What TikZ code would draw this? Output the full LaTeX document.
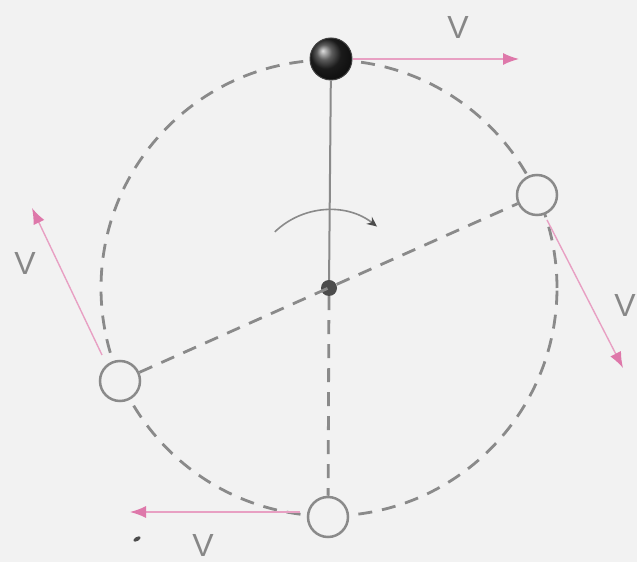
\documentclass[tikz,border=0pt]{standalone}
\usepackage{fontspec}
\setmainfont{Liberation Sans}
\usetikzlibrary{arrows.meta}
\definecolor{bg}{RGB}{242,242,242}
\definecolor{ln}{RGB}{138,138,138}
\definecolor{pk}{RGB}{222,120,170}
\definecolor{txt}{RGB}{135,135,135}
\tikzset{
  ball/.style={circle,draw=ln,line width=2.5pt,fill=bg,minimum size=40pt,inner sep=0pt},
  heavy/.style={circle,draw=black!75,line width=1pt,ball color=black!85,minimum size=42pt,inner sep=0pt},
  dsh/.style={draw=ln,line width=2.8pt,dash pattern=on 14pt off 10pt},
  vel/.style={draw=pk!70,line width=1.4pt,-{Latex[length=16pt,width=12pt,color=pk]}},
  vlab/.style={text=txt,font=\fontsize{32}{32}\selectfont,inner sep=0pt},
}
\begin{document}
\begin{tikzpicture}[x=1pt,y=1pt]
\fill[bg] (0,0) rectangle (637,562);
\useasboundingbox (0,0) rectangle (637,562);
% orbit
\coordinate (P) at (329,274);
\draw[dsh] (P) circle (228);
% balls
\node[ball] (R) at (537,367) {};
\node[ball] (L) at (120,181) {};
\node[ball] (B) at (328,45) {};
\node[heavy] (T) at (331,503) {};
\node[circle,fill=black!70,minimum size=16pt,inner sep=0pt] (C) at (P) {};
% radii
\draw[ln,line width=2pt] (T) -- (C);
\draw[dsh] (C) -- (B);
\draw[dsh] (L) -- (R);
% rotation arrow
\draw[ln,line width=1.6pt,-{Stealth[length=10pt,width=9pt,color=black!70]}] ([shift={(134:78)}]P) arc[start angle=134,end angle=52,radius=78];
% velocities
\coordinate (vt) at (519,503);
\coordinate (vr) at (623,194);
\coordinate (vl) at (32,354);
\coordinate (vb) at (130,50);
\draw[vel] (T.east) -- (vt);
\draw[vel] (547,342) -- (vr);
\draw[vel] (102,207) -- (vl);
\draw[vel] (300,50) -- (vb);
\node[vlab] (Vt) at (458,535) {V};
\node[vlab] (Vr) at (625,257) {V};
\node[vlab] (Vl) at (25,299) {V};
\node[vlab] (Vb) at (203,17) {V};
% speck
\fill[black!70,rotate around={30:(137,23)}] (137,23) ellipse (4pt and 2pt);
\end{tikzpicture}
\end{document}
